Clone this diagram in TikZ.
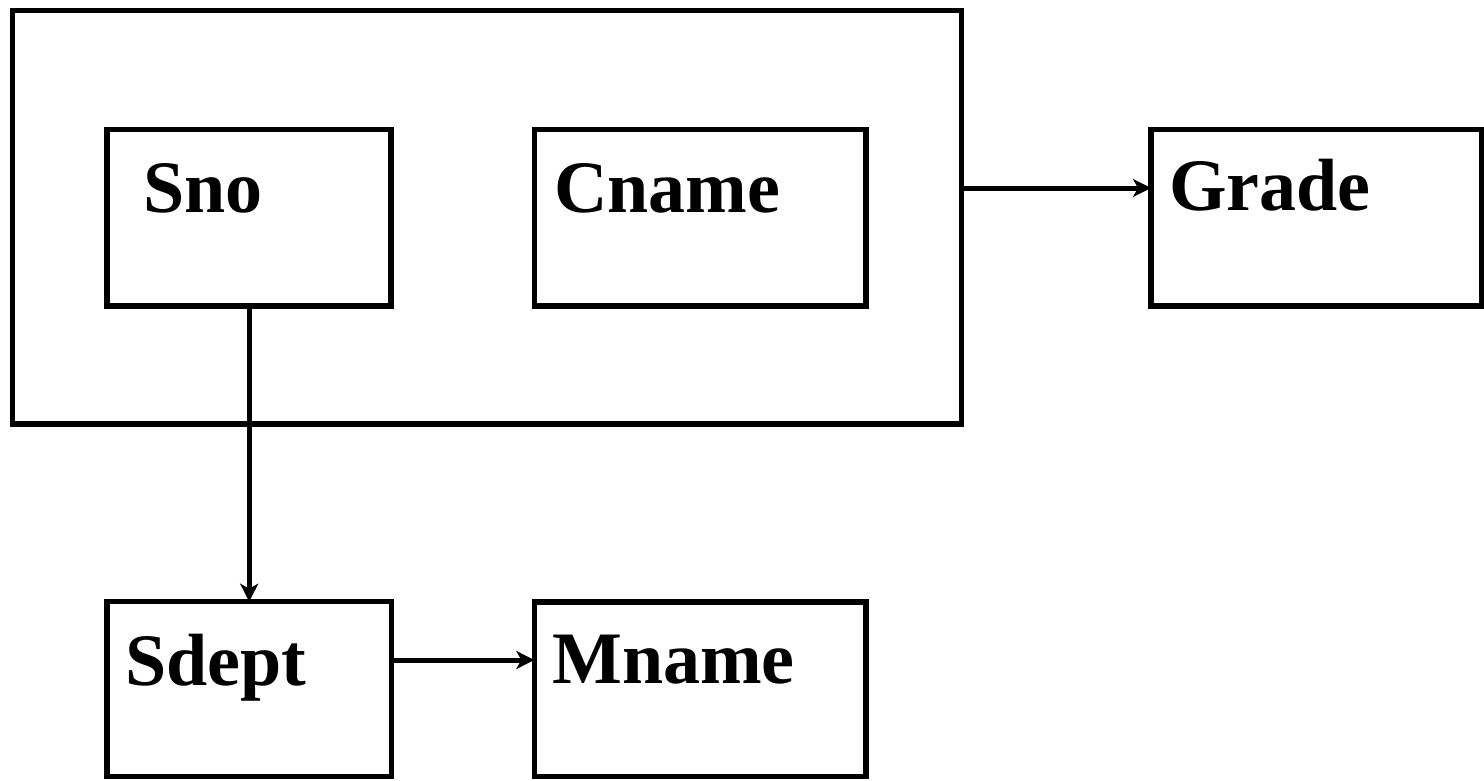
\documentclass[tikz,border=0pt]{standalone}
\usepackage{fontspec}
\setmainfont{Liberation Serif}
\usetikzlibrary{arrows.meta}
\begin{document}
\begin{tikzpicture}[x=1pt,y=-1pt,
  box/.style={draw,line width=5.5pt,rectangle,outer sep=0pt,inner sep=0pt},
  lbl/.style={anchor=base west,inner sep=0pt,font=\fontsize{74}{80}\selectfont\bfseries},
  arr/.style={line width=5pt,-{Stealth[length=18pt,width=18pt,inset=5pt]}}]
\useasboundingbox (0,0) rectangle (1484,780);
\node[box,minimum width=949pt,minimum height=413.5pt] (outer) at (487,217.25) {};
\node[box,minimum width=284pt,minimum height=176.5pt] (sno) at (249.2,217.75) {};
\node[box,minimum width=331.5pt,minimum height=176.5pt] (cname) at (700.25,217.75) {};
\node[box,minimum width=331pt,minimum height=176.5pt] (grade) at (1316.5,217.75) {};
\node[box,minimum width=284.4pt,minimum height=175pt] (sdept) at (249.2,689.2) {};
\node[box,minimum width=331.7pt,minimum height=174.5pt] (mname) at (700.2,689) {};
\node[lbl] (snoT) at (143.5,212) {Sno};
\node[lbl] (cnameT) at (554,212) {Cname};
\node[lbl] (gradeT) at (1169,210) {Grade};
\node[lbl] (sdeptT) at (125.5,685) {Sdept};
\node[lbl] (mnameT) at (552,683) {Mname};
\coordinate (gy) at (0,188);
\coordinate (my) at (0,660);
\draw[arr] (outer.east |- gy) -- (grade.west |- gy);
\draw[arr] (sno.south) -- (sdept.north);
\draw[arr] (sdept.east |- my) -- (mname.west |- my);
\end{tikzpicture}
\end{document}
